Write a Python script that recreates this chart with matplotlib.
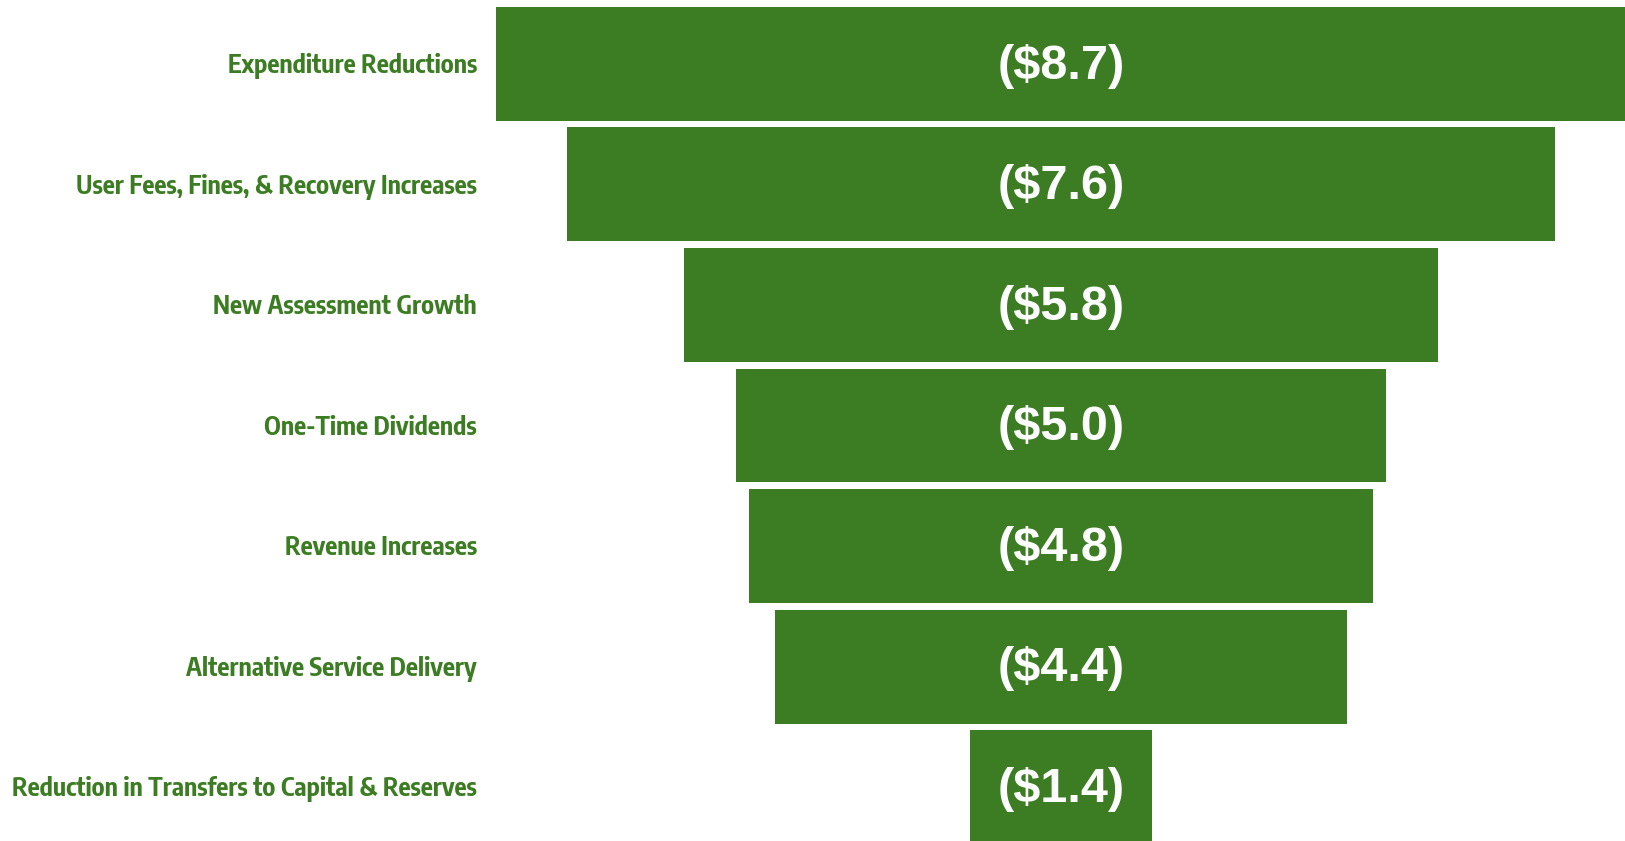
"""Funnel chart of budget balancing measures ($ millions)."""
import matplotlib.pyplot as plt

categories = [
    "Expenditure Reductions",
    "User Fees, Fines, & Recovery Increases",
    "New Assessment Growth",
    "One-Time Dividends",
    "Revenue Increases",
    "Alternative Service Delivery",
    "Reduction in Transfers to Capital & Reserves",
]
values = [8.7, 7.6, 5.8, 5.0, 4.8, 4.4, 1.4]
value_labels = ["($8.7)", "($7.6)", "($5.8)", "($5.0)", "($4.8)", "($4.4)", "($1.4)"]

GREEN = "#3C7D23"
LABEL_FONT = ["Encode Sans Condensed", "DejaVu Sans"]

fig = plt.figure(figsize=(16.25, 8.41), dpi=100)
ax = fig.add_axes([0, 0, 1, 1])

ypos = list(range(len(values)))
lefts = [-v / 2 for v in values]
ax.barh(ypos, values, left=lefts, height=0.946, color=GREEN)

for y, lab in zip(ypos, value_labels):
    ax.text(0, y + 0.02, lab, ha="center", va="center", color="white",
            fontsize=35, fontweight="bold", family=["Liberation Sans", "DejaVu Sans"])

# category labels sit left of the widest bar (x in px / 130 px per unit)
for y, cat in zip(ypos, categories):
    ax.text((477 - 1061) / 130, y + 0.02, cat, ha="right", va="center", color=GREEN,
            fontsize=18.3, fontweight="bold", family=LABEL_FONT)

ax.set_xlim(-1061 / 130, 564 / 130)
ax.set_ylim(6.448, -0.531)
ax.axis("off")

fig.savefig("out.png", dpi=100, facecolor="white")
